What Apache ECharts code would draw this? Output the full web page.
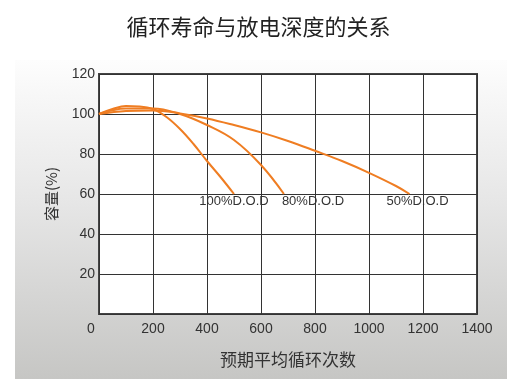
<!DOCTYPE html>
<html>
<head>
<meta charset="utf-8">
<script src="https://cdn.jsdelivr.net/npm/echarts@6/dist/echarts.min.js"></script>
<style>
html,body{margin:0;padding:0;background:#fff;}
#wrap{position:relative;width:517px;height:390px;}
#bg{position:absolute;left:15px;top:60px;width:492px;height:319px;background:linear-gradient(to bottom,#fdfdfd 0%,#e6e6e6 45%,#c6c6c4 100%);}
#chart{position:absolute;left:0;top:0;width:517px;height:390px;}
</style>
</head>
<body>
<div id="wrap"><div id="bg"></div><div id="chart"></div></div>
<script>
var titleText = '循环寿命与放电深度的关系';
var xAxisName = '预期平均循环次数';
var yAxisName = '容量(%)';
var seriesNames = ['100%D.O.D', '80%D.O.D', '50%D.O.D'];

var cycles100 = [0, 50, 100, 150, 200, 250, 300, 350, 400, 450, 500];
var cap100 = [100, 102.5, 104, 103.8, 102.5, 98.5, 92.5, 85, 76.5, 68.5, 60];

var cycles80 = [0, 100, 200, 300, 400, 500, 600, 685];
var cap80 = [100, 102.8, 102.8, 100, 94.5, 87, 74.5, 60];

var cycles50 = [0, 100, 200, 300, 400, 500, 600, 700, 800, 900, 1000, 1100, 1150];
var cap50 = [100, 101.5, 101.8, 100.3, 97.8, 94.5, 90.8, 86.5, 81.6, 76.5, 70.6, 64, 60];

function pairs(xs, ys) { return xs.map(function (x, i) { return [x, ys[i]]; }); }

var labelOffsets = [[0, 0], [29, 0], [8, 0]];
var datasets = [pairs(cycles100, cap100), pairs(cycles80, cap80), pairs(cycles50, cap50)];

var series = datasets.map(function (d, k) {
  var data = d.map(function (p, i) {
    if (i === d.length - 1) {
      return {
        value: p,
        label: {
          show: true, position: 'bottom', distance: 1, offset: labelOffsets[k],
          formatter: seriesNames[k], color: '#333', fontSize: 13,
          fontFamily: 'Liberation Sans, Arial, sans-serif'
        }
      };
    }
    return p;
  });
  return {
    name: seriesNames[k], type: 'line', smooth: 0.4, showSymbol: true, symbol: 'circle', symbolSize: 0,
    lineStyle: { color: '#ef7d22', width: 2 }, itemStyle: { color: '#ef7d22' },
    label: { show: false },
    data: data, z: 3
  };
});

var chart = echarts.init(document.getElementById('chart'));
chart.setOption({
  animation: false,
  backgroundColor: 'transparent',
  title: {
    text: titleText, left: 'center', top: 11,
    textStyle: { fontSize: 22, fontWeight: 'normal', color: '#222', fontFamily: 'Noto Sans CJK SC, sans-serif' }
  },
  grid: { left: 99, right: 40, top: 74, bottom: 76, show: true, backgroundColor: '#fff', borderColor: '#444', borderWidth: 2 },
  xAxis: {
    type: 'value', min: 0, max: 1400, interval: 200,
    name: xAxisName, nameLocation: 'middle', nameGap: 37,
    nameTextStyle: { fontSize: 17, color: '#333', fontFamily: 'Noto Sans CJK SC, sans-serif' },
    axisLine: { show: false }, axisTick: { show: false },
    axisLabel: {
      margin: 8, color: '#333', fontSize: 14, fontFamily: 'Liberation Sans, Arial, sans-serif',
      formatter: function (v) { return v === 0 ? '{z|0}' : String(v); },
      rich: { z: { padding: [0, 16, 0, 0], fontSize: 14, color: '#333', fontFamily: 'Liberation Sans, Arial, sans-serif' } }
    },
    splitLine: { show: true, lineStyle: { color: '#333', width: 1 } }
  },
  yAxis: {
    type: 'value', min: 0, max: 120, interval: 20,
    name: yAxisName, nameLocation: 'middle', nameGap: 40,
    nameTextStyle: { fontSize: 15, color: '#333', fontFamily: 'Noto Sans CJK SC, sans-serif' },
    axisLine: { show: false }, axisTick: { show: false },
    axisLabel: {
      margin: 4, color: '#333', fontSize: 14, fontFamily: 'Liberation Sans, Arial, sans-serif',
      formatter: function (v) { return v === 0 ? '' : String(v); }
    },
    splitLine: { show: true, lineStyle: { color: '#333', width: 1 } }
  },
  series: series
});
</script>
</body>
</html>
